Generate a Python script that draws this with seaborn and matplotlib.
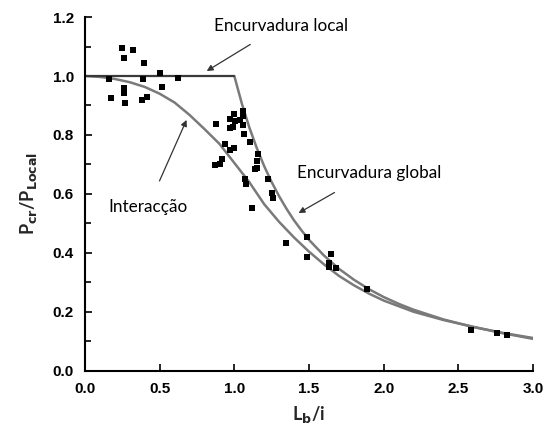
import matplotlib
matplotlib.use("Agg")
import matplotlib.pyplot as plt
from matplotlib.ticker import MultipleLocator, FormatStrFormatter
import pandas as pd
import seaborn as sns

# Test points (Lb/i, Pcr/Plocal)
pts_x = [0.25, 0.32, 0.26, 0.395, 0.50, 0.625, 0.16, 0.386, 0.518, 0.174,
         0.261, 0.261, 0.27, 0.384, 0.417,
         0.875, 1.0, 1.056, 1.06, 0.971, 1.005, 1.04, 0.971, 0.993, 1.06,
         1.067, 1.105, 0.938, 0.971, 1.0, 0.915, 0.904, 0.871, 1.161, 1.154,
         1.15, 1.139, 1.228, 1.072, 1.076, 1.25, 1.261, 1.116,
         1.485, 1.346, 1.485, 1.648, 1.634, 1.634, 1.681, 1.89,
         2.585, 2.757, 2.828]
pts_y = [1.094, 1.088, 1.062, 1.045, 1.009, 0.994, 0.989, 0.989, 0.963, 0.927,
         0.961, 0.944, 0.91, 0.919, 0.93,
         0.836, 0.872, 0.881, 0.865, 0.853, 0.847, 0.85, 0.825, 0.827, 0.833,
         0.804, 0.777, 0.77, 0.749, 0.757, 0.717, 0.703, 0.697, 0.734, 0.712,
         0.689, 0.683, 0.65, 0.65, 0.633, 0.602, 0.587, 0.551,
         0.454, 0.433, 0.386, 0.395, 0.367, 0.352, 0.35, 0.276,
         0.139, 0.128, 0.12]

# Local buckling plateau
local_x = [0.0, 1.0]
local_y = [1.0, 1.0]

# Global buckling curve
glob_x = [1.0, 1.05, 1.1, 1.15, 1.2, 1.25, 1.3, 1.35, 1.4, 1.45, 1.5, 1.6, 1.7,
          1.8, 1.9, 2.0, 2.1, 2.2, 2.4, 2.6, 2.8, 3.0]
glob_y = [1.0, 0.907, 0.826, 0.756, 0.694, 0.64, 0.592, 0.549, 0.510, 0.476,
          0.444, 0.391, 0.346, 0.309, 0.277, 0.25, 0.227, 0.207, 0.174, 0.148,
          0.128, 0.111]

# Interaction curve
inter_x = [0.0, 0.1, 0.2, 0.3, 0.4, 0.5, 0.6, 0.7, 0.8, 0.9, 1.0, 1.1, 1.2,
           1.3, 1.4, 1.5, 1.6, 1.7, 1.8, 1.9, 2.0, 2.2, 2.4, 2.6, 2.8, 3.0]
inter_y = [1.0, 0.997, 0.99, 0.979, 0.963, 0.94, 0.91, 0.868, 0.82, 0.77,
           0.705, 0.64, 0.565, 0.505, 0.452, 0.404, 0.361, 0.322, 0.29, 0.262,
           0.238, 0.2, 0.172, 0.149, 0.127, 0.108]

sns.set_style("ticks")
plt.rcParams["font.family"] = ["Liberation Sans", "DejaVu Sans"]

fig = plt.figure(figsize=(5.47, 4.36), dpi=100)
ax = fig.add_axes([0.1554, 0.1498, 0.819, 0.811])

curve_col = "#7a7a7a"
sns.lineplot(x=inter_x, y=inter_y, ax=ax, color=curve_col, lw=1.8)
sns.lineplot(x=glob_x, y=glob_y, ax=ax, color=curve_col, lw=1.8)
sns.lineplot(x=local_x, y=local_y, ax=ax, color="#3a3a3a", lw=1.6)

pts = pd.DataFrame({"x": pts_x, "y": pts_y})
sns.scatterplot(data=pts, x="x", y="y", ax=ax, marker="s", s=22,
                color="black", edgecolor="black", linewidth=0, zorder=5)

ax.set_xlim(0, 3.0)
ax.set_ylim(0, 1.2)
ax.xaxis.set_major_locator(MultipleLocator(0.5))
ax.yaxis.set_major_locator(MultipleLocator(0.2))
ax.yaxis.set_minor_locator(MultipleLocator(0.1))
ax.tick_params(axis="both", which="both", direction="in", width=1.2, colors="black")
ax.tick_params(which="major", length=5, labelsize=11, pad=8)
ax.tick_params(which="minor", length=4)
ax.xaxis.set_major_formatter(FormatStrFormatter("%.1f"))
ax.yaxis.set_major_formatter(FormatStrFormatter("%.1f"))
for lab in ax.get_xticklabels() + ax.get_yticklabels():
    lab.set_fontweight("bold")
for s in ["left", "bottom"]:
    ax.spines[s].set_linewidth(1.5)
    ax.spines[s].set_color("black")
sns.despine(ax=ax)

lab_font = {"family": ["Lato", "DejaVu Sans"], "weight": "bold", "size": 13}
ax.set_xlabel(r"L$_\mathbf{b}$/i", fontdict=lab_font, labelpad=6)
ax.set_ylabel(r"P$_\mathbf{cr}$/P$_\mathbf{Local}$", fontdict=lab_font, labelpad=10)

ann_font = dict(family=["Lato", "DejaVu Sans"], size=12.3, color="black")
arrow = dict(arrowstyle="-|>", color="#333333", lw=0.9, mutation_scale=9)
ax.annotate("Encurvadura local", xy=(0.815, 1.017), xytext=(1.31, 1.17),
            ha="center", va="center", arrowprops=dict(arrow, shrinkA=10, shrinkB=0),
            **ann_font)
ax.annotate("Encurvadura global", xy=(1.43, 0.535), xytext=(1.9, 0.671),
            ha="center", va="center", arrowprops=dict(arrow, shrinkA=12, shrinkB=0),
            **ann_font)
ax.annotate("Interacção", xy=(0.68, 0.851), xytext=(0.42, 0.554),
            ha="center", va="center", arrowprops=dict(arrow, shrinkA=12, shrinkB=0),
            **ann_font)

fig.savefig("out.png", dpi=100)
